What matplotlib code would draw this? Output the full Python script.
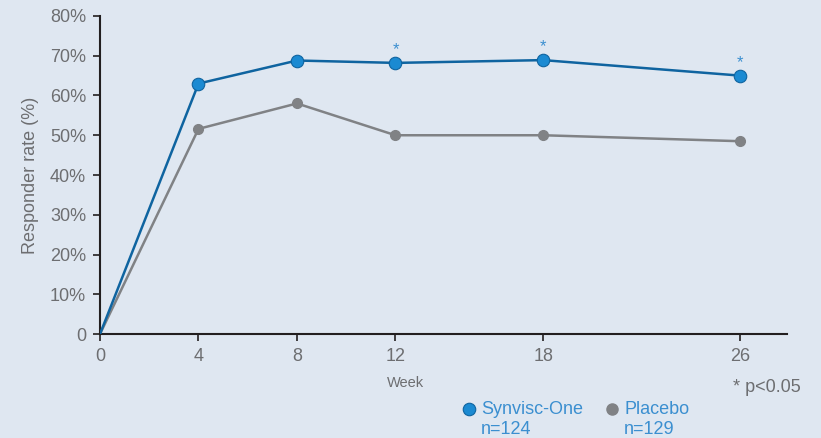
import matplotlib.pyplot as plt
from matplotlib.lines import Line2D

weeks = [0, 4, 8, 12, 18, 26]
synvisc = [0, 63.0, 68.8, 68.2, 68.9, 65.0]
placebo = [0, 51.6, 58.0, 50.0, 50.0, 48.5]
signif_weeks = [12, 18, 26]
y_ticks = [0, 10, 20, 30, 40, 50, 60, 70, 80]
y_labels = ['0', '10%', '20%', '30%', '40%', '50%', '60%', '70%', '80%']

bg = '#dfe7f1'
blue_line = '#0f64a0'
blue_mark = '#1b8ad2'
grey = '#808285'
text_grey = '#6d6e71'
legend_blue = '#3b8fd0'

plt.rcParams['font.family'] = ['Liberation Sans', 'DejaVu Sans']

fig = plt.figure(figsize=(8.21, 4.38), dpi=100, facecolor=bg)
ax = fig.add_axes([0.1218, 0.2374, 0.8368, 0.7261], facecolor=bg)

ax.plot(weeks, placebo, color=grey, lw=1.8, zorder=2)
ax.plot(weeks[1:], placebo[1:], 'o', color=grey, ms=7, zorder=3)
ax.plot(weeks, synvisc, color=blue_line, lw=1.8, zorder=4)
ax.plot(weeks[1:], synvisc[1:], 'o', color=blue_mark, mec=blue_line, mew=0.8, ms=9, zorder=5)

for w in signif_weeks:
    y = synvisc[weeks.index(w)]
    ax.annotate('*', (w, y), xytext=(0, 4), textcoords='offset points',
                ha='center', va='bottom', color=legend_blue, fontsize=12)

ax.set_xlim(0, 27.9)
ax.set_ylim(0, 80)
ax.set_xticks(weeks)
ax.set_yticks(y_ticks)
ax.set_yticklabels(y_labels)
ax.tick_params(colors=text_grey, labelsize=13, length=5, width=1.2, pad=5)
for s in ['top', 'right']:
    ax.spines[s].set_visible(False)
for s in ['left', 'bottom']:
    ax.spines[s].set_color('#231f20')
    ax.spines[s].set_linewidth(1.5)
ax.tick_params(color='#231f20')

ax.set_ylabel('Responder rate (%)', color=text_grey, fontsize=13, labelpad=8)
fig.text(405 / 821, 1 - 383 / 438, 'Week', color=text_grey, fontsize=10.5, ha='center', va='center')
fig.text(733 / 821, 1 - 388 / 438, '* p<0.05', color=text_grey, fontsize=13, ha='left', va='center')

# legend: markers on the first text line, sample size underneath
legend_items = [
    ('Synvisc-One', 'n=124', 469, dict(color=blue_mark, mec=blue_line, mew=0.8, ms=9)),
    ('Placebo', 'n=129', 612, dict(color=grey, ms=8)),
]
for name, n, x0, style in legend_items:
    fig.add_artist(Line2D([x0 / 821], [1 - 409 / 438], marker='o', ls='none', **style))
    fig.text((x0 + 12) / 821, 1 - 409 / 438, name, color=legend_blue, fontsize=13, va='center')
    fig.text((x0 + 12) / 821, 1 - 430 / 438, n, color=legend_blue, fontsize=13, va='center')

fig.savefig('out.png', dpi=100, facecolor=bg)
